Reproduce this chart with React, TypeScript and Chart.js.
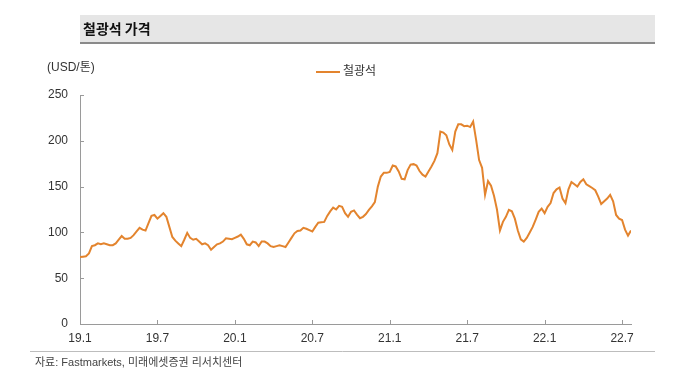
import React, { useEffect, useRef } from 'react';
import { Chart, registerables } from 'chart.js';

Chart.register(...registerables);

const titleText = '철광석 가격';
const unitLabel = '(USD/톤)';
const seriesName = '철광석';
const sourceText = '자료: Fastmarkets, 미래에셋증권 리서치센터';

const xTickLabels = ['19.1', '19.7', '20.1', '20.7', '21.1', '21.7', '22.1', '22.7'];
const weeksPerTick = 26;
const yMin = 0;
const yMax = 250;
const yStep = 50;

// Weekly iron ore price (USD/ton), Jan 2019 – Jul 2022
const ironOre = [
  73, 73.5, 74, 77, 85, 86, 88, 87, 88, 87,
  86, 86, 88, 92, 96, 93, 93, 94, 97, 101,
  105, 103, 102, 110, 118, 119, 115, 118, 121, 117,
  106, 95, 91, 88, 85, 92, 99.5, 94, 92, 93,
  90, 87, 88, 86, 81, 84, 87, 88, 90, 93.5,
  93, 92.5, 94, 95.5, 97.5, 93, 87, 86, 90, 89,
  85, 90, 90, 88, 85, 84, 85, 86, 85, 84,
  89, 94, 99, 101.5, 102, 105, 104, 102.5, 101, 106,
  110.5, 111, 111.5, 118, 123, 127, 125, 129, 128, 121,
  117, 122.5, 124, 119.5, 115.5, 117, 120, 124.5, 128.5, 133,
  150, 161, 165, 165, 166, 173, 172, 166.5, 158.5, 158,
  168, 174, 174.5, 173, 167, 163, 161, 166.5, 172, 178,
  186.5, 210, 209, 206, 196, 190, 210, 218, 218, 216,
  216.5, 215, 221, 201, 179, 170.5, 141, 156, 151, 140,
  125, 102, 111.5, 117, 124.5, 123, 115, 102, 92.5, 90,
  94, 100, 106, 114, 122.5, 126, 121, 128, 132, 143,
  147, 149, 137, 132, 147, 155, 152.5, 150, 155, 158,
  152.5, 150.5, 148.5, 146, 139, 131, 134, 137, 141, 134,
  119, 115, 113.5, 103, 96.5, 102,
];

const lineColor = '#E3842E';
const axisColor = '#9a9a9a';
const textColor = '#333333';
const fontFamily = "'Liberation Sans', 'Noto Sans CJK KR', sans-serif";

const decoPlugin = {
  id: 'deco',
  beforeDraw(chart: any) {
    const ctx = chart.ctx;
    ctx.save();
    ctx.fillStyle = '#ffffff';
    ctx.fillRect(0, 0, chart.width, chart.height);
    ctx.restore();
  },
  afterDraw(chart: any) {
    const ctx = chart.ctx;
    const area = chart.chartArea;
    ctx.save();
    // Title bar
    ctx.fillStyle = '#e6e6e6';
    ctx.fillRect(80, 15, 575, 27);
    ctx.fillStyle = '#8a8a8a';
    ctx.fillRect(80, 42, 575, 2);
    ctx.fillStyle = '#111111';
    ctx.font = "bold 14px 'Noto Sans CJK KR', sans-serif";
    ctx.textBaseline = 'middle';
    ctx.textAlign = 'left';
    ctx.fillText(titleText, 83, 29);

    // Unit label
    ctx.fillStyle = textColor;
    ctx.font = `12px ${fontFamily}`;
    ctx.fillText(unitLabel, 47, 68);

    // Legend
    ctx.strokeStyle = lineColor;
    ctx.lineWidth = 2;
    ctx.beginPath();
    ctx.moveTo(316, 72);
    ctx.lineTo(340, 72);
    ctx.stroke();
    ctx.fillStyle = textColor;
    ctx.font = `12px ${fontFamily}`;
    ctx.fillText(seriesName, 343, 72);

    // Inward tick marks
    const xs = chart.scales.x;
    const ys = chart.scales.y;
    ctx.strokeStyle = axisColor;
    ctx.lineWidth = 1;
    ctx.beginPath();
    xs.ticks.forEach((t: any) => {
      const px = Math.round(xs.getPixelForValue(t.value)) + 0.5;
      ctx.moveTo(px, area.bottom);
      ctx.lineTo(px, area.bottom - 4);
    });
    ys.ticks.forEach((t: any) => {
      const py = Math.round(ys.getPixelForValue(t.value)) + 0.5;
      ctx.moveTo(area.left, py);
      ctx.lineTo(area.left + 4, py);
    });
    ctx.stroke();

    // Source line and text
    ctx.strokeStyle = '#bdbdbd';
    ctx.beginPath();
    ctx.moveTo(30, 351.5);
    ctx.lineTo(655, 351.5);
    ctx.stroke();
    ctx.fillStyle = '#444444';
    ctx.font = `11px ${fontFamily}`;
    ctx.fillText(sourceText, 35, 363);
    ctx.restore();
  },
};

export default function App() {
  const canvasRef = useRef<HTMLCanvasElement | null>(null);

  useEffect(() => {
    const canvas = canvasRef.current;
    if (!canvas) return;
    const points = ironOre.map((v, i) => ({ x: i, y: v }));
    const chart = new Chart(canvas, {
      type: 'line',
      data: {
        datasets: [
          {
            label: seriesName,
            data: points,
            borderColor: lineColor,
            backgroundColor: lineColor,
            borderWidth: 2,
            pointRadius: 0,
            tension: 0,
          },
        ],
      },
      options: {
        animation: false,
        responsive: false,
        maintainAspectRatio: false,
        parsing: false as any,
        layout: { padding: { left: 30, right: 49, top: 95, bottom: 26 } },
        plugins: {
          legend: { display: false },
          tooltip: { enabled: false },
        },
        scales: {
          x: {
            type: 'linear',
            min: 0,
            max: ironOre.length - 1,
            afterBuildTicks: (scale: any) => {
              scale.ticks = xTickLabels.map((_, k) => ({ value: k * weeksPerTick }));
            },
            afterFit: (scale: any) => {
              scale.height = 30;
            },
            grid: { display: true, drawOnChartArea: false, drawTicks: false },
            border: { display: true, color: axisColor, width: 1 },
            ticks: {
              autoSkip: false,
              maxRotation: 0,
              padding: 7,
              color: textColor,
              font: { family: fontFamily, size: 12 },
              callback: (value: any) => {
                const k = Math.round(Number(value) / weeksPerTick);
                return xTickLabels[k] ?? '';
              },
            },
          },
          y: {
            type: 'linear',
            min: yMin,
            max: yMax,
            afterFit: (scale: any) => {
              scale.width = 50;
            },
            grid: { display: true, drawOnChartArea: false, drawTicks: false },
            border: { display: true, color: axisColor, width: 1 },
            ticks: {
              stepSize: yStep,
              padding: 12,
              color: textColor,
              font: { family: fontFamily, size: 12 },
            },
          },
        },
      },
      plugins: [decoPlugin],
    });
    return () => chart.destroy();
  }, []);

  return (
    <div style={{ position: 'fixed', left: 0, top: 0, width: 680, height: 380, background: '#fff' }}>
      <canvas ref={canvasRef} width={680} height={380} style={{ display: 'block' }} />
    </div>
  );
}
